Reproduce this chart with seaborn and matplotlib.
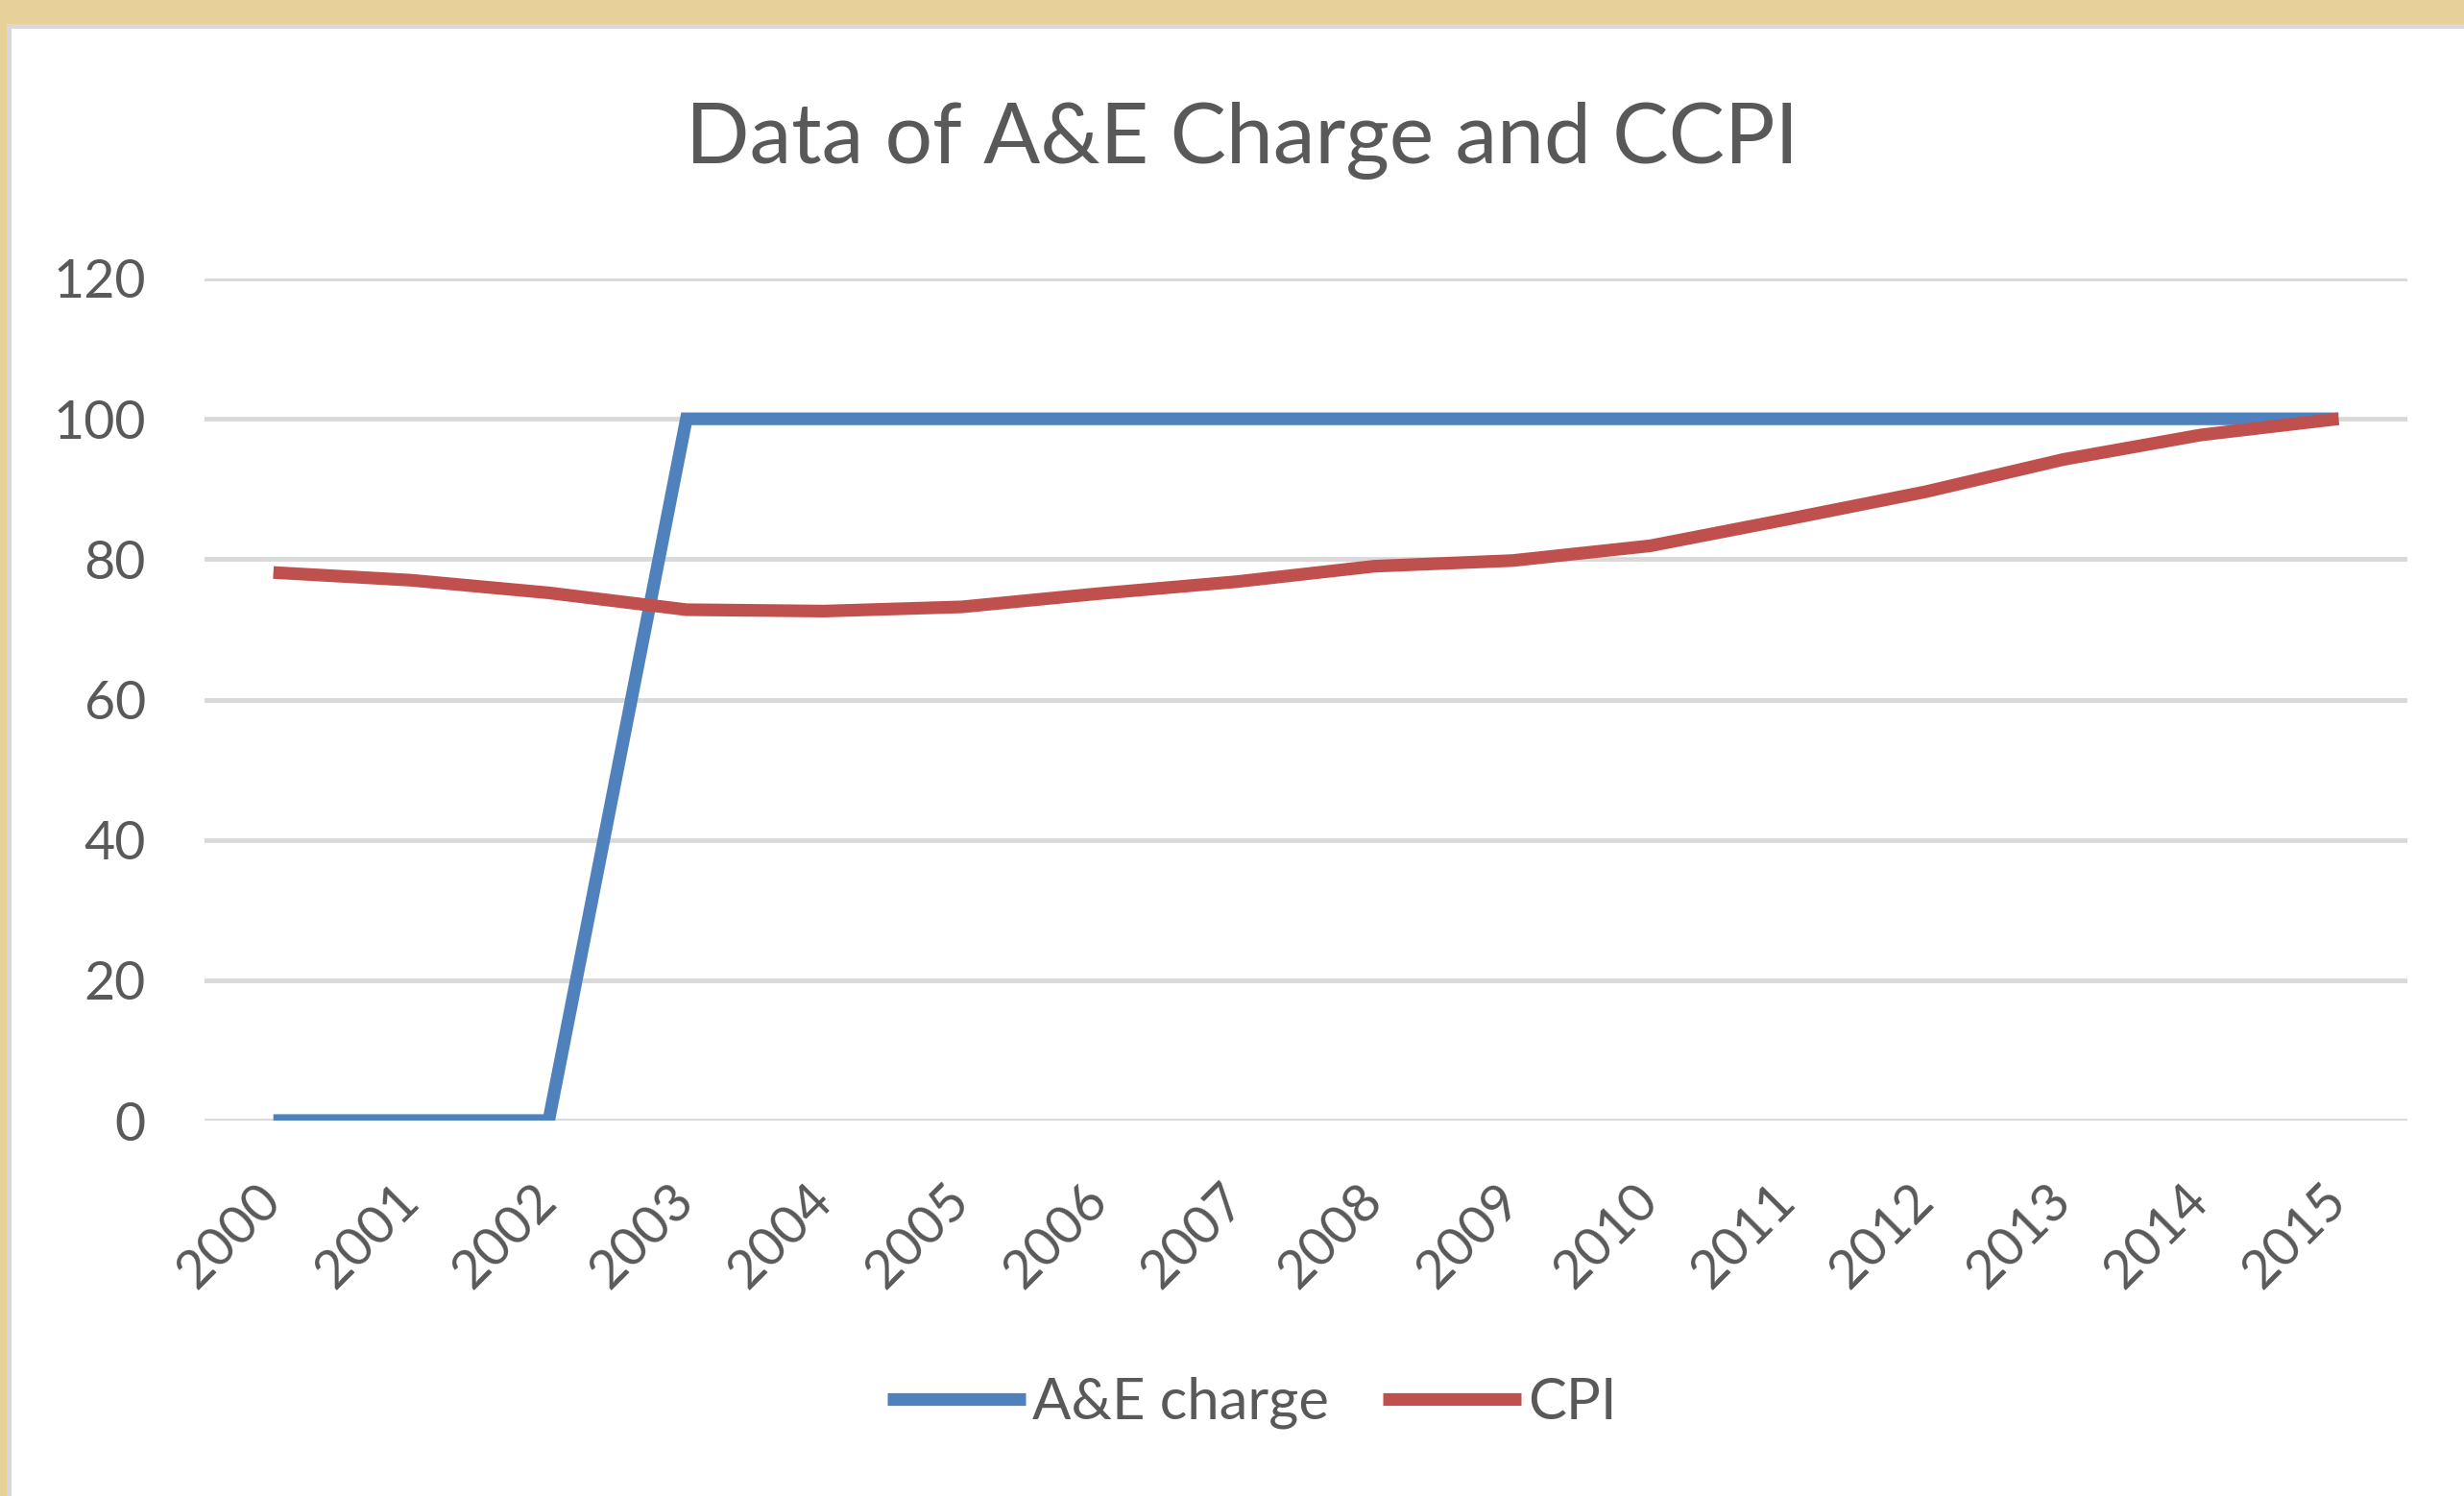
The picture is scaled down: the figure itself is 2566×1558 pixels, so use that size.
import numpy as np
import pandas as pd
import matplotlib
matplotlib.use("Agg")
import matplotlib.pyplot as plt
from matplotlib.patches import Rectangle
import seaborn as sns

# ---- data ----
years = ["2000", "2001", "2002", "2003", "2004", "2005", "2006", "2007",
         "2008", "2009", "2010", "2011", "2012", "2013", "2014", "2015"]
ae_charge = [0, 0, 0, 100, 100, 100, 100, 100, 100, 100, 100, 100, 100, 100, 100, 100]
cpi = [78.1, 77.0, 75.2, 72.8, 72.6, 73.2, 75.1, 76.8, 79.0, 79.8, 81.9, 85.7,
       89.6, 94.2, 97.7, 100.0]
series_names = ["A&E charge", "CPI"]
y_ticks = [0, 20, 40, 60, 80, 100, 120]

title_text = "Data of A&E Charge and CCPI"

# ---- styling ----
sns.set_theme(style="white")
plt.rcParams["font.family"] = ["Lato", "DejaVu Sans"]

W, H = 2566, 1558
DPI = 100
fig = plt.figure(figsize=(W / DPI, H / DPI), dpi=DPI)
fig.patch.set_facecolor("#E8D199")

# chart panel (grey edge + white interior)
fig.patches.append(Rectangle((7 / W, 0), 1, 1 - 25 / H, transform=fig.transFigure,
                             facecolor="#D9D9D9", edgecolor="none", zorder=-2))
fig.patches.append(Rectangle((12 / W, 0), 1, 1 - 30 / H, transform=fig.transFigure,
                             facecolor="white", edgecolor="none", zorder=-1))

left, right, top, bottom = 213, 2507, 290, 1167
ax = fig.add_axes([left / W, 1 - bottom / H, (right - left) / W, (bottom - top) / H])
ax.set_facecolor("none")

pos = np.arange(len(years))
df = pd.DataFrame({
    "pos": np.concatenate([pos, pos]),
    "value": ae_charge + cpi,
    "series": [series_names[0]] * len(years) + [series_names[1]] * len(years),
})

LW = 9.5
sns.lineplot(data=df, x="pos", y="value", hue="series",
             palette={"A&E charge": "#4F81BD", "CPI": "#C0504D"},
             linewidth=LW, ax=ax, legend=True, zorder=3)
for ln in ax.get_lines():
    ln.set_solid_capstyle("butt")
    ln.set_solid_joinstyle("miter")

ax.set_xlim(-0.5, len(years) - 0.5)
ax.set_ylim(0, 120)
ax.set_yticks(y_ticks)
ax.set_yticklabels([str(t) for t in y_ticks])
ax.set_xticks(pos)
ax.set_xticklabels(years, rotation=45, ha="right", va="center",
                   rotation_mode="anchor")
ax.grid(axis="y", color="#D9D9D9", linewidth=3.5, zorder=0)
ax.set_axisbelow(True)
for s in ax.spines.values():
    s.set_visible(False)
ax.tick_params(axis="y", length=0, pad=44, labelsize=40, labelcolor="#595959")
ax.tick_params(axis="x", length=0, pad=54, labelsize=40, labelcolor="#595959")
ax.set_xlabel("")
ax.set_ylabel("")

handles, labels = ax.get_legend_handles_labels()
ax.get_legend().remove()
leg = fig.legend(handles, labels, loc="center", ncol=2, frameon=False,
                 bbox_to_anchor=(1304 / W, 1 - 1461 / H), fontsize=43,
                 labelcolor="#595959", handlelength=2.4, handletextpad=0.12,
                 columnspacing=0.95)
for h in leg.get_lines():
    h.set_linewidth(LW)
    h.set_solid_capstyle("butt")

fig.text(1294 / W, 1 - 146 / H, title_text, ha="center", va="center",
         fontsize=63, color="#595959")

fig.savefig("out.png", dpi=DPI, facecolor=fig.get_facecolor())
